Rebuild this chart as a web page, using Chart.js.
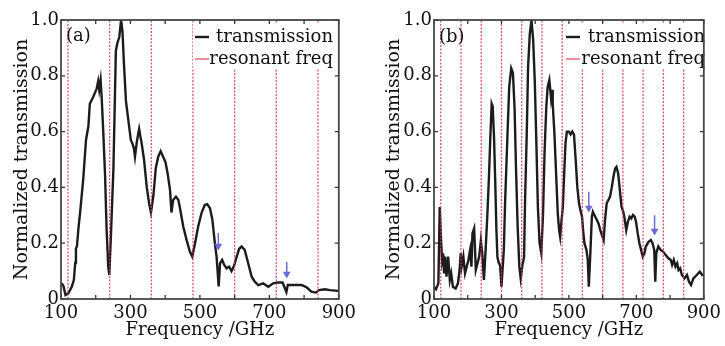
<!DOCTYPE html>
<html lang="en">
<head>
    <meta charset="UTF-8">
    <title>Normalized transmission</title>
    <style>
        body {
            margin: 0;
            background: #fff;
            font-family: "DejaVu Serif", serif;
        }
        .wrap {
            position: relative;
            width: 725px;
            height: 346px;
            overflow: hidden;
        }
        canvas {
            position: absolute;
            top: 0;
        }
        .tag {
            position: absolute;
            font-size: 18px;
            line-height: 18px;
            color: #111;
        }
    </style>
    <script src="https://cdn.jsdelivr.net/npm/chart.js"></script>
</head>
<body>

<div class="wrap">
    <canvas id="chartA" width="360" height="346" style="left:0"></canvas>
    <canvas id="chartB" width="365" height="346" style="left:360px"></canvas>
    <div class="tag" style="left:66px; top:26px">(a)</div>
    <div class="tag" style="left:439px; top:27px">(b)</div>
</div>

<script>
    // panel (a)
    const freqA = [102, 107, 113, 121, 131, 137, 141, 143, 146, 150, 155, 164, 172, 179, 183, 193, 203, 207, 210, 214,
        217, 222, 227, 231, 236, 239, 244, 251, 258, 262, 268, 273, 277, 281, 287, 294, 301, 306, 310, 313,
        318, 322, 325, 329, 332, 339, 347, 354, 359, 366, 373, 380, 387, 394, 401, 407, 414, 418, 423, 431,
        438, 442, 452, 462, 471, 478, 486, 495, 505, 514, 521, 529, 536, 543, 548, 554, 558, 564, 570, 577,
        584, 591, 598, 606, 613, 620, 629, 639, 649, 658, 668, 682, 697, 711, 725, 738, 749, 753, 764, 778,
        793, 807, 821, 834, 843, 860, 874, 898];
    const transA = [0.056, 0.047, 0.014, 0.02, 0.044, 0.068, 0.13, 0.18, 0.19, 0.25, 0.31, 0.43, 0.57, 0.62, 0.70, 0.725, 0.755, 0.78, 0.75, 0.785,
        0.725, 0.59, 0.44, 0.26, 0.116, 0.086, 0.235, 0.47, 0.89, 0.916, 0.94, 1.0, 0.96, 0.85, 0.71, 0.64, 0.57, 0.556, 0.54, 0.51,
        0.56, 0.59, 0.61, 0.58, 0.56, 0.50, 0.40, 0.34, 0.31, 0.37, 0.47, 0.51, 0.53, 0.51, 0.49, 0.45, 0.39, 0.31, 0.355, 0.367,
        0.355, 0.33, 0.26, 0.21, 0.17, 0.152, 0.2, 0.26, 0.31, 0.337, 0.34, 0.325, 0.283, 0.2, 0.152, 0.045, 0.128, 0.14, 0.122, 0.11,
        0.116, 0.1, 0.118, 0.152, 0.18, 0.188, 0.176, 0.128, 0.08, 0.062, 0.05, 0.056, 0.044, 0.056, 0.059, 0.059, 0.025, 0.05, 0.05, 0.05,
        0.05, 0.042, 0.026, 0.023, 0.032, 0.035, 0.032, 0.029];
    const resonantA = [120, 240, 360, 480, 600, 720, 840];
    const arrowXA = [553, 750];
    const arrowTopA = [0.237, 0.133];
    const arrowEndA = [0.19, 0.09];

    // panel (b)
    const freqB = [100, 106, 113, 117, 120, 124, 127, 130, 133, 137, 142, 147, 151, 156, 164, 171, 176, 179, 182, 187,
        192, 197, 202, 207, 211, 214, 219, 224, 229, 234, 239, 243, 248, 253, 258, 263, 267, 271, 274, 278,
        282, 285, 288, 292, 296, 300, 307, 311, 318, 323, 329, 334, 339, 343, 348, 353, 357, 362, 367, 370,
        375, 379, 384, 389, 394, 399, 404, 408, 413, 418, 423, 428, 433, 437, 442, 447, 450, 452, 457, 462,
        467, 471, 474, 478, 482, 486, 490, 494, 500, 505, 510, 515, 520, 525, 530, 534, 539, 542, 546, 552,
        556, 559, 564, 568, 571, 578, 583, 588, 593, 598, 603, 607, 612, 617, 622, 627, 632, 637, 641, 646,
        651, 656, 661, 665, 670, 675, 680, 685, 690, 695, 699, 704, 709, 714, 719, 724, 728, 736, 743, 748,
        753, 756, 759, 765, 772, 779, 787, 795, 802, 806, 811, 816, 821, 825, 830, 835, 843, 850, 856, 862,
        869, 879, 888, 895, 900];
    const transB = [0.044, 0.035, 0.056, 0.33, 0.235, 0.14, 0.164, 0.092, 0.152, 0.08, 0.152, 0.068, 0.092, 0.044, 0.038, 0.056, 0.104, 0.164, 0.116, 0.152,
        0.092, 0.116, 0.14, 0.176, 0.116, 0.235, 0.253, 0.104, 0.128, 0.152, 0.21, 0.164, 0.068, 0.176, 0.295, 0.44, 0.58, 0.70, 0.69, 0.58,
        0.40, 0.25, 0.15, 0.13, 0.12, 0.044, 0.176, 0.355, 0.594, 0.76, 0.827, 0.81, 0.68, 0.474, 0.26, 0.116, 0.074, 0.12, 0.15, 0.355,
        0.594, 0.833, 0.95, 1.0, 0.93, 0.773, 0.534, 0.33, 0.2, 0.165, 0.295, 0.534, 0.69, 0.76, 0.785, 0.72, 0.75, 0.70, 0.594, 0.45,
        0.307, 0.247, 0.223, 0.28, 0.33, 0.45, 0.56, 0.60, 0.60, 0.59, 0.60, 0.59, 0.50, 0.40, 0.343, 0.319, 0.295, 0.247, 0.2, 0.176,
        0.14, 0.044, 0.176, 0.295, 0.313, 0.295, 0.283, 0.27, 0.247, 0.229, 0.211, 0.283, 0.343, 0.355, 0.367, 0.40, 0.438, 0.468, 0.474, 0.45,
        0.39, 0.331, 0.313, 0.289, 0.247, 0.277, 0.295, 0.289, 0.301, 0.295, 0.277, 0.235, 0.2, 0.176, 0.152, 0.164, 0.188, 0.205, 0.211, 0.2,
        0.176, 0.062, 0.164, 0.188, 0.176, 0.17, 0.158, 0.146, 0.14, 0.122, 0.14, 0.116, 0.128, 0.104, 0.11, 0.086, 0.074, 0.086, 0.062, 0.05,
        0.074, 0.086, 0.098, 0.086, 0.086];
    const resonantB = [120, 180, 240, 300, 360, 420, 480, 540, 600, 660, 720, 780, 840];
    const arrowXB = [559, 754];
    const arrowTopB = [0.384, 0.30];
    const arrowEndB = [0.326, 0.244];

    // axes
    const xLabelValues = [100, 300, 500, 700, 900];
    const yLabelValues = [0, 0.2, 0.4, 0.6, 0.8, 1.0];

    Chart.defaults.font.family = '"DejaVu Serif", serif';
    Chart.defaults.color = '#111';

    // frame with inward ticks on all four sides, plus legend inside the plot on a white box
    const framePlugin = {
        id: 'frame',
        beforeDraw(chart, args, opts) {
            const lg = chart.legend;
            lg.left = opts.legendLeft;
            lg.right = opts.legendRight;
            lg.top = opts.legendTop;
            lg.bottom = chart.chartArea.bottom;
            lg.width = lg.right - lg.left;
            lg.height = lg.bottom - lg.top;
        },
        afterDatasetsDraw(chart, args, opts) {
            const ctx = chart.ctx;
            const ca = chart.chartArea;
            ctx.save();
            ctx.fillStyle = '#fff';
            ctx.fillRect(opts.boxLeft, opts.boxTop, ca.right - opts.boxLeft, opts.boxBottom - opts.boxTop);
            ctx.restore();
            chart.legend.draw();

            const xs = chart.scales.x, ys = chart.scales.y;
            ctx.save();
            ctx.strokeStyle = '#333';
            ctx.lineWidth = 1.3;
            ctx.beginPath();
            xs.ticks.forEach(t => {
                const px = xs.getPixelForValue(t.value);
                ctx.moveTo(px, ca.bottom); ctx.lineTo(px, ca.bottom - 4);
                ctx.moveTo(px, ca.top); ctx.lineTo(px, ca.top + 4);
            });
            ys.ticks.forEach(t => {
                const py = ys.getPixelForValue(t.value);
                ctx.moveTo(ca.left, py); ctx.lineTo(ca.left + 4, py);
                ctx.moveTo(ca.right, py); ctx.lineTo(ca.right - 4, py);
            });
            ctx.stroke();
            ctx.strokeStyle = '#474747';
            ctx.lineWidth = 1.8;
            ctx.strokeRect(ca.left, ca.top, ca.right - ca.left, ca.bottom - ca.top);
            ctx.restore();
        }
    };

    function makeChart(id, freq, trans, resonant, arrowX, arrowTop, arrowEnd, p) {
        const curve = freq.map((f, i) => ({x: f, y: trans[i]}));
        const lines = resonant.flatMap(f => [{x: f, y: 0}, {x: f, y: 1}, {x: f, y: null}]);
        const arrows = arrowX.flatMap((f, i) => [{x: f, y: arrowTop[i]}, {x: f, y: arrowEnd[i]}, {x: f, y: null}]);

        return new Chart(document.getElementById(id), {
            type: 'line',
            data: {
                datasets: [{
                    label: 'transmission',
                    data: curve,
                    borderColor: '#1c1c1c',
                    borderWidth: 2.4,
                    pointRadius: 0,
                    tension: 0,
                    order: 2
                }, {
                    label: 'resonant freq',
                    data: lines,
                    borderColor: 'rgba(220, 50, 80, 0.85)',
                    borderWidth: 1.3,
                    borderDash: [2, 1.5],
                    pointRadius: 0,
                    spanGaps: false,
                    order: 1
                }, {
                    label: 'arrow',
                    data: arrows,
                    borderColor: '#6b6bd8',
                    backgroundColor: '#6b6bd8',
                    borderWidth: 1.5,
                    pointStyle: 'triangle',
                    rotation: 180,
                    pointRadius: c => (c.dataIndex % 3 === 1 ? 4.5 : 0),
                    pointBorderWidth: 0,
                    spanGaps: false,
                    order: 0
                }]
            },
            options: {
                responsive: false,
                animation: false,
                layout: {
                    padding: {left: 0, right: p.padRight, top: 20, bottom: 0}
                },
                scales: {
                    x: {
                        type: 'linear',
                        min: 100,
                        max: 900,
                        grid: {display: false, drawTicks: false},
                        border: {display: false},
                        ticks: {
                            stepSize: 100,
                            autoSkip: false,
                            maxRotation: 0,
                            padding: 4,
                            font: {size: 18},
                            color: '#111',
                            callback: v => (xLabelValues.includes(v) ? String(v) : '')
                        },
                        title: {
                            display: true,
                            text: 'Frequency /GHz',
                            font: {size: 18},
                            color: '#111',
                            padding: {top: 0, bottom: 5}
                        },
                        afterFit: s => { s.height = 47; }
                    },
                    y: {
                        min: 0,
                        max: 1,
                        grid: {display: false, drawTicks: false},
                        border: {display: false},
                        ticks: {
                            stepSize: 0.2,
                            padding: 2,
                            font: {size: 18},
                            color: '#111',
                            callback: v => {
                                const hit = yLabelValues.find(t => Math.abs(t - v) < 1e-6);
                                if (hit === undefined) return '';
                                return hit === 0 ? '0' : hit.toFixed(1);
                            }
                        },
                        title: {
                            display: true,
                            text: 'Normalized transmission',
                            font: {size: 19},
                            color: '#111',
                            padding: {top: p.yTitlePad, bottom: 0}
                        },
                        afterFit: s => { s.width = p.yAxisWidth; }
                    }
                },
                plugins: {
                    tooltip: {enabled: false},
                    legend: {
                        display: true,
                        position: 'chartArea',
                        align: 'start',
                        labels: {
                            usePointStyle: true,
                            pointStyle: 'line',
                            pointStyleWidth: 14,
                            padding: 4,
                            textAlign: 'right',
                            color: '#111',
                            font: {size: 18},
                            filter: item => item.datasetIndex < 2,
                            sort: (a, b) => a.datasetIndex - b.datasetIndex
                        }
                    },
                    frame: p.frame
                }
            },
            plugins: [framePlugin]
        });
    }

    makeChart('chartA', freqA, transA, resonantA, arrowXA, arrowTopA, arrowEndA, {
        padRight: 21,
        yAxisWidth: 61,
        yTitlePad: 10.5,
        frame: {legendLeft: 191, legendRight: 333, legendTop: 24, boxLeft: 193, boxTop: 23, boxBottom: 69}
    });

    makeChart('chartB', freqB, transB, resonantB, arrowXB, arrowTopB, arrowEndB, {
        padRight: 16,
        yAxisWidth: 74,
        yTitlePad: 22.5,
        frame: {legendLeft: 202, legendRight: 345, legendTop: 24, boxLeft: 204, boxTop: 23, boxBottom: 69}
    });
</script>

</body>
</html>
